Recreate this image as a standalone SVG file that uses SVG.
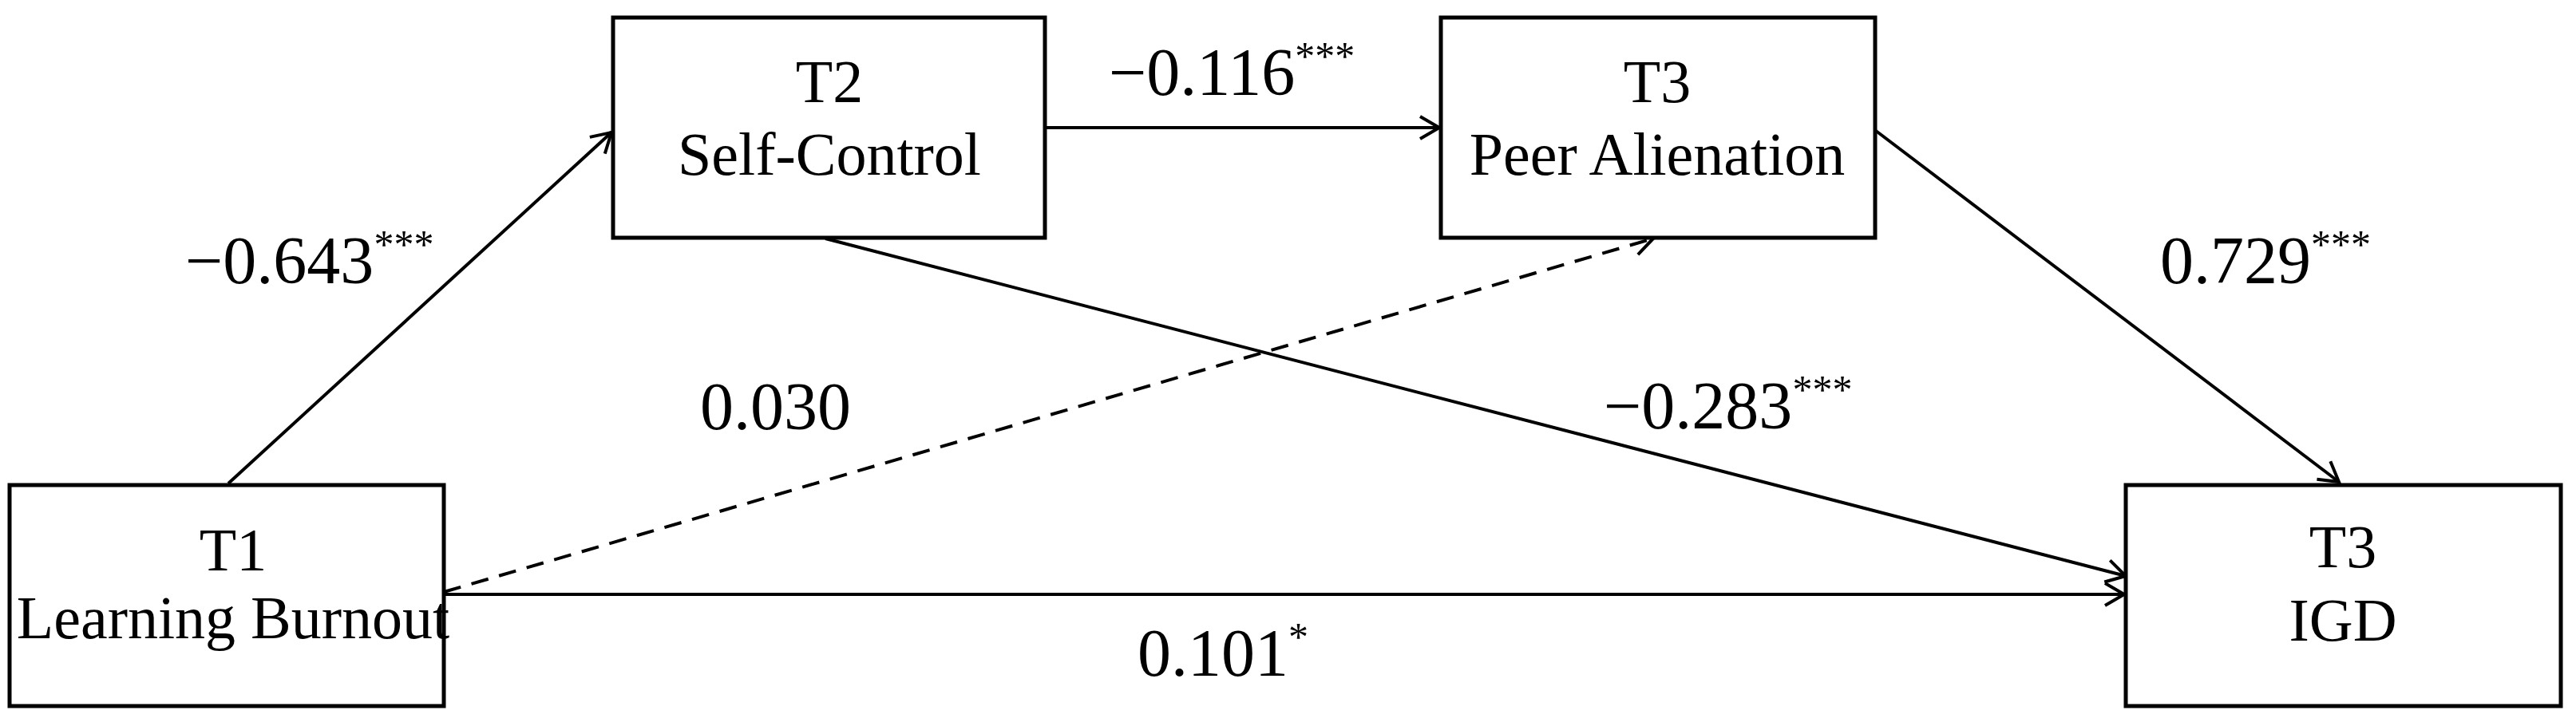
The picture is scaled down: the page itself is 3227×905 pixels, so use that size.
<svg xmlns="http://www.w3.org/2000/svg" width="3227" height="905" viewBox="0 0 3227 905">
<style>
.box{fill:#fff;stroke:#000;stroke-width:5}
.t{font-family:"Liberation Serif",serif;font-size:76px;text-anchor:middle;fill:#000}
.l{font-family:"Liberation Serif",serif;font-size:84px;fill:#000}
.s{font-size:50px}
.c{stroke:#000;stroke-width:4;fill:none}
</style>
<defs>
<marker id="a" markerUnits="userSpaceOnUse" markerWidth="40" markerHeight="40" refX="30" refY="20" orient="auto" viewBox="0 0 40 40">
<path d="M6,6 L30,20 L6,34" fill="none" stroke="#000" stroke-width="4"/>
</marker>
</defs>
<rect width="3227" height="905" fill="#fff"/>
<g id="connectors">
<line class="c" x1="286" y1="606" x2="766" y2="166" marker-end="url(#a)"/>
<line class="c" x1="1309" y1="160" x2="1803" y2="160" marker-end="url(#a)"/>
<line class="c" x1="2350" y1="164" x2="2930" y2="604" marker-end="url(#a)"/>
<line class="c" x1="1034" y1="299" x2="2663" y2="722" marker-end="url(#a)"/>
<line class="c" x1="556" y1="742" x2="2071" y2="299" stroke-dasharray="22,14" marker-end="url(#a)"/>
<line class="c" x1="556" y1="745" x2="2661" y2="745" marker-end="url(#a)"/>
</g>
<g id="n1"><rect class="box" x="12" y="608" width="544" height="277"/>
<text class="t" x="292" y="715">T1</text><text class="t" x="292" y="800">Learning Burnout</text></g>
<g id="n2"><rect class="box" x="768" y="22" width="541" height="276"/>
<text class="t" x="1039" y="128">T2</text><text class="t" x="1039" y="219">Self-Control</text></g>
<g id="n3"><rect class="box" x="1805" y="22" width="544" height="276"/>
<text class="t" x="2076" y="128">T3</text><text class="t" x="2076" y="219">Peer Alienation</text></g>
<g id="n4"><rect class="box" x="2663" y="608" width="545" height="277"/>
<text class="t" x="2935" y="711">T3</text><text class="t" x="2935" y="803">IGD</text></g>
<g id="labels">
<text class="l" x="232" y="355">−0.643<tspan class="s" dy="-32">***</tspan></text>
<text class="l" x="1389" y="119">−0.116<tspan class="s" dy="-32">***</tspan></text>
<text class="l" x="877" y="538">0.030</text>
<text class="l" x="1425" y="847">0.101<tspan class="s" dy="-32">*</tspan></text>
<text class="l" x="2706" y="355">0.729<tspan class="s" dy="-32">***</tspan></text>
<text class="l" x="2009" y="537">−0.283<tspan class="s" dy="-32">***</tspan></text>
</g>
</svg>
